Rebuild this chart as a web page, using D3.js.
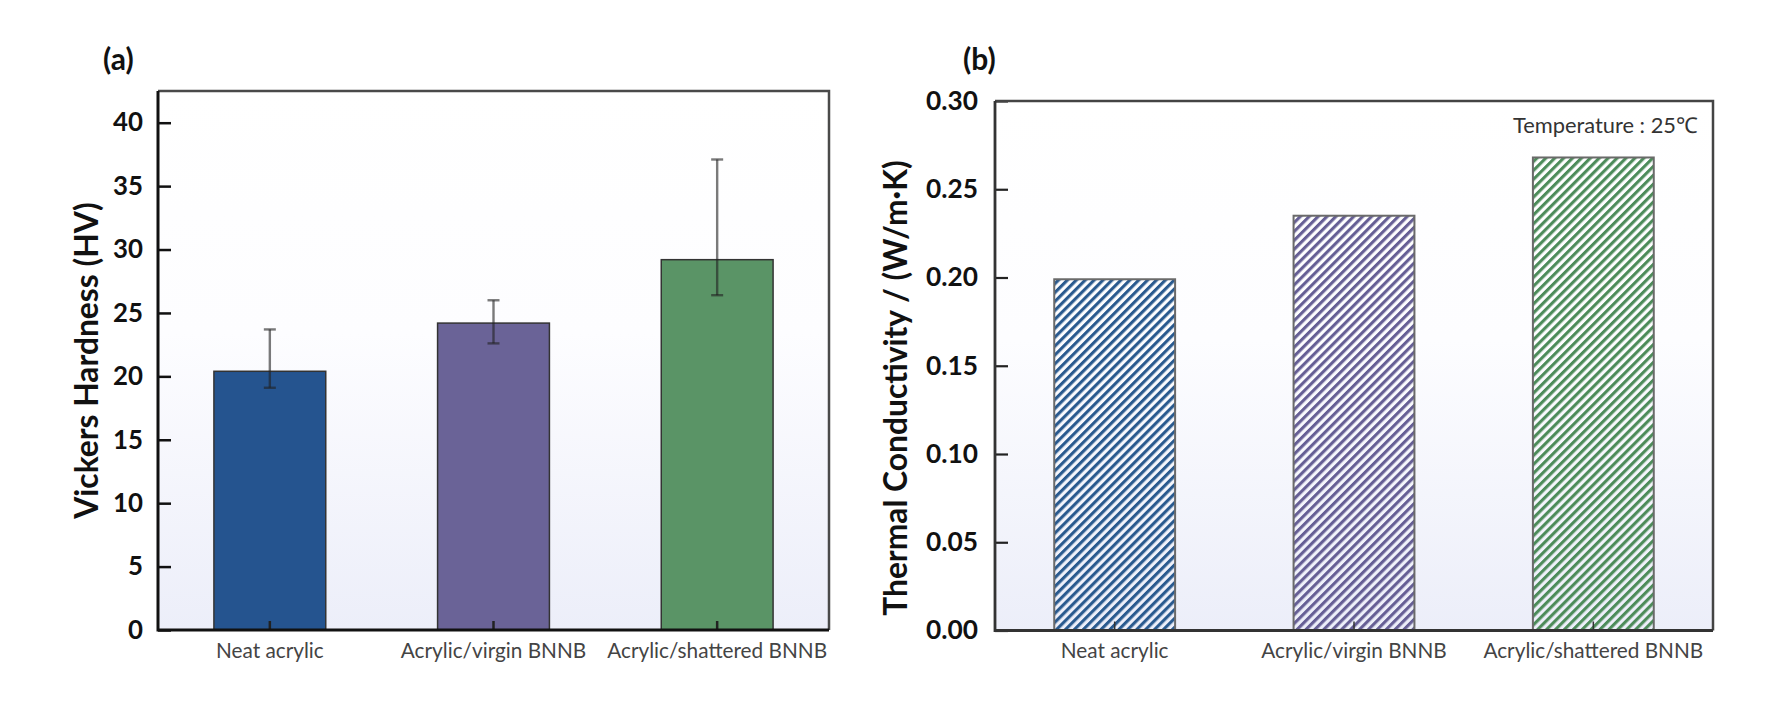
<!DOCTYPE html>
<meta charset="utf-8" />
<script src="https://d3js.org/d3.v7.min.js"></script>
<style>
  body { margin: 0; background: #ffffff; }
  text { font-family: Lato, "Open Sans", sans-serif; }
</style>
<div id="my_dataviz"></div>
<script>
  // ---- data ----
  const categories = ["Neat acrylic", "Acrylic/virgin BNNB", "Acrylic/shattered BNNB"];

  // (a) Vickers hardness, HV
  const hardness = [20.4, 24.2, 29.2];
  const hardnessErrTop = [23.7, 26.0, 37.1];
  const hardnessErrBottom = [19.1, 22.6, 26.4];
  const hardnessTicks = [0, 5, 10, 15, 20, 25, 30, 35, 40];

  // (b) thermal conductivity, W/m·K at 25 C
  const conductivity = [0.199, 0.235, 0.268];
  const conductivityTicks = [0.0, 0.05, 0.1, 0.15, 0.2, 0.25, 0.3];

  const barColors = ["#25548f", "#6a6397", "#5a9466"];
  const hatchColors = ["#2a5a8f", "#665f95", "#4d8c5a"];

  const W = 1776, H = 714;

  // scale a text's font so it spans the width measured on the figure
  function fitFont(sel, target) {
    var fs = parseFloat(sel.style("font-size"));
    var len = sel.node().getComputedTextLength();
    return (fs * target) / len;
  }

  var svg = d3
    .select("#my_dataviz")
    .append("svg")
    .attr("width", W)
    .attr("height", H);

  var defs = svg.append("defs");
  var grad = defs
    .append("linearGradient")
    .attr("id", "bgGrad")
    .attr("x1", 0).attr("y1", 0)
    .attr("x2", 0).attr("y2", 1);
  grad.append("stop").attr("offset", "0").attr("stop-color", "#ffffff");
  grad.append("stop").attr("offset", "0.45").attr("stop-color", "#fdfdff");
  grad.append("stop").attr("offset", "1").attr("stop-color", "#eceef9");

  // diagonal hatch patterns for panel (b)
  hatchColors.forEach(function (c, i) {
    var p = defs
      .append("pattern")
      .attr("id", "hatch" + i)
      .attr("patternUnits", "userSpaceOnUse")
      .attr("width", 6.3)
      .attr("height", 10)
      .attr("patternTransform", "rotate(45)");
    p.append("rect")
      .attr("x", 0).attr("y", 0)
      .attr("width", 3.1).attr("height", 10)
      .attr("fill", c);
  });

  // ---------- panel (a) ----------
  const A = { left: 158, right: 829, top: 91, bottom: 630 };

  var xA = d3.scaleBand()
    .domain(categories)
    .range([A.left, A.right])
    .paddingInner(0.5)
    .paddingOuter(0.25);
  var yA = d3.scaleLinear().domain([0, 42.5]).range([A.bottom, A.top]);

  var gA = svg.append("g");
  gA.append("rect")
    .attr("x", A.left).attr("y", A.top)
    .attr("width", A.right - A.left).attr("height", A.bottom - A.top)
    .attr("fill", "url(#bgGrad)");

  gA.selectAll(".barA")
    .data(hardness)
    .join("rect")
    .attr("class", "barA")
    .attr("x", (d, i) => xA(categories[i]))
    .attr("width", xA.bandwidth())
    .attr("y", (d) => yA(d))
    .attr("height", (d) => yA(0) - yA(d))
    .attr("fill", (d, i) => barColors[i])
    .attr("stroke", "#333")
    .attr("stroke-width", 1.5);

  // error bars
  var errG = gA.selectAll(".err")
    .data(hardness)
    .join("g")
    .attr("class", "err")
    .attr("stroke", "#222")
    .attr("stroke-opacity", 0.6)
    .attr("stroke-width", 2.4);
  errG.append("line")
    .attr("x1", (d, i) => xA(categories[i]) + xA.bandwidth() / 2)
    .attr("x2", (d, i) => xA(categories[i]) + xA.bandwidth() / 2)
    .attr("y1", (d, i) => yA(hardnessErrTop[i]))
    .attr("y2", (d, i) => yA(hardnessErrBottom[i]));
  errG.append("line")
    .attr("x1", (d, i) => xA(categories[i]) + xA.bandwidth() / 2 - 6)
    .attr("x2", (d, i) => xA(categories[i]) + xA.bandwidth() / 2 + 6)
    .attr("y1", (d, i) => yA(hardnessErrTop[i]))
    .attr("y2", (d, i) => yA(hardnessErrTop[i]));
  errG.append("line")
    .attr("x1", (d, i) => xA(categories[i]) + xA.bandwidth() / 2 - 6)
    .attr("x2", (d, i) => xA(categories[i]) + xA.bandwidth() / 2 + 6)
    .attr("y1", (d, i) => yA(hardnessErrBottom[i]))
    .attr("y2", (d, i) => yA(hardnessErrBottom[i]));

  // y axis (ticks pointing inward)
  var yAxisA = gA.append("g")
    .attr("transform", `translate(${A.left},0)`)
    .call(d3.axisLeft(yA).tickValues(hardnessTicks).tickFormat(d3.format("d"))
      .tickSizeInner(-13).tickSizeOuter(0).tickPadding(15));
  yAxisA.select(".domain").remove();
  yAxisA.selectAll(".tick line").attr("stroke", "#111").attr("stroke-width", 2.5);
  yAxisA.selectAll(".tick text")
    .style("font-size", "25px").style("font-weight", "bold").attr("fill", "#111");
  var fsA = fitFont(yAxisA.selectAll(".tick text").filter((d) => d === 40), 30);
  yAxisA.selectAll(".tick text").style("font-size", fsA + "px");

  var xAxisA = gA.append("g")
    .attr("transform", `translate(0,${A.bottom})`)
    .call(d3.axisBottom(xA).tickSizeInner(-9).tickSizeOuter(0).tickPadding(13));
  xAxisA.select(".domain").remove();
  xAxisA.selectAll(".tick line").attr("stroke", "#222").attr("stroke-width", 2.5);
  xAxisA.selectAll(".tick text")
    .style("font-size", "18px").attr("fill", "#444");
  var catFs = fitFont(xAxisA.selectAll(".tick text").filter((d) => d === categories[2]), 220);
  xAxisA.selectAll(".tick text").style("font-size", catFs + "px");

  // frame
  gA.append("path")
    .attr("d", `M${A.left},${A.top}H${A.right}V${A.bottom}`)
    .attr("fill", "none").attr("stroke", "#4a4a4a").attr("stroke-width", 2.5);
  gA.append("path")
    .attr("d", `M${A.left},${A.top}V${A.bottom}H${A.right}`)
    .attr("fill", "none").attr("stroke", "#111").attr("stroke-width", 3);

  var titleA = gA.append("text")
    .attr("transform", `translate(98,${(A.top + A.bottom) / 2}) rotate(-90)`)
    .attr("text-anchor", "middle")
    .style("font-size", "28px").style("font-weight", "bold").attr("fill", "#111")
    .text("Vickers Hardness (HV)");

  gA.append("text")
    .attr("x", 103).attr("y", 70)
    .style("font-size", "30px").style("font-weight", "bold").attr("fill", "#111")
    .text("(a)");

  // ---------- panel (b) ----------
  const B = { left: 995, right: 1713, top: 101, bottom: 630.5 };

  var xB = d3.scaleBand()
    .domain(categories)
    .range([B.left, B.right])
    .paddingInner(0.495)
    .paddingOuter(0.2475);
  var yB = d3.scaleLinear().domain([0, 0.3]).range([B.bottom, B.top]);

  var gB = svg.append("g");
  gB.append("rect")
    .attr("x", B.left).attr("y", B.top)
    .attr("width", B.right - B.left).attr("height", B.bottom - B.top)
    .attr("fill", "url(#bgGrad)");

  gB.selectAll(".barB")
    .data(conductivity)
    .join("rect")
    .attr("class", "barB")
    .attr("x", (d, i) => xB(categories[i]))
    .attr("width", xB.bandwidth())
    .attr("y", (d) => yB(d))
    .attr("height", (d) => yB(0) - yB(d))
    .attr("fill", (d, i) => "url(#hatch" + i + ")")
    .attr("stroke", "#6a6a6a")
    .attr("stroke-width", 2);

  var yAxisB = gB.append("g")
    .attr("transform", `translate(${B.left},0)`)
    .call(d3.axisLeft(yB).tickValues(conductivityTicks).tickFormat(d3.format(".2f"))
      .tickSizeInner(-13).tickSizeOuter(0).tickPadding(17));
  yAxisB.select(".domain").remove();
  yAxisB.selectAll(".tick line").attr("stroke", "#222").attr("stroke-width", 2.2);
  yAxisB.selectAll(".tick text")
    .style("font-size", "25px").style("font-weight", "bold").attr("fill", "#111");
  var fsB = fitFont(yAxisB.selectAll(".tick text").filter((d) => d === 0.3), 52);
  yAxisB.selectAll(".tick text").style("font-size", fsB + "px");

  var xAxisB = gB.append("g")
    .attr("transform", `translate(0,${B.bottom})`)
    .call(d3.axisBottom(xB).tickSizeInner(-9).tickSizeOuter(0).tickPadding(13));
  xAxisB.select(".domain").remove();
  xAxisB.selectAll(".tick line").attr("stroke", "#333").attr("stroke-width", 1.5);
  xAxisB.selectAll(".tick text")
    .style("font-size", catFs + "px").attr("fill", "#444");

  gB.append("path")
    .attr("d", `M${B.left},${B.top}H${B.right}V${B.bottom}`)
    .attr("fill", "none").attr("stroke", "#444").attr("stroke-width", 2.5);
  gB.append("path")
    .attr("d", `M${B.left},${B.top}V${B.bottom}H${B.right}`)
    .attr("fill", "none").attr("stroke", "#333").attr("stroke-width", 2.8);

  var titleB = gB.append("text")
    .attr("transform", `translate(907,388) rotate(-90)`)
    .attr("text-anchor", "middle")
    .style("font-size", "28px").style("font-weight", "bold").attr("fill", "#111")
    .text("Thermal Conductivity / (W/m\u00b7K)");

  // both titles share one size, fitted to the measured lengths
  var titleFs = (fitFont(titleA, 325) + fitFont(titleB, 444)) / 2;
  titleA.style("font-size", titleFs + "px");
  titleB.style("font-size", titleFs + "px");

  var temp = gB.append("text")
    .attr("x", 1698).attr("y", 133)
    .attr("text-anchor", "end")
    .style("font-size", "19px").attr("fill", "#333")
    .text("Temperature : 25\u2103");
  temp.style("font-size", fitFont(temp, 185) + "px");

  gB.append("text")
    .attr("x", 963).attr("y", 70)
    .style("font-size", "30px").style("font-weight", "bold").attr("fill", "#111")
    .text("(b)");
</script>
